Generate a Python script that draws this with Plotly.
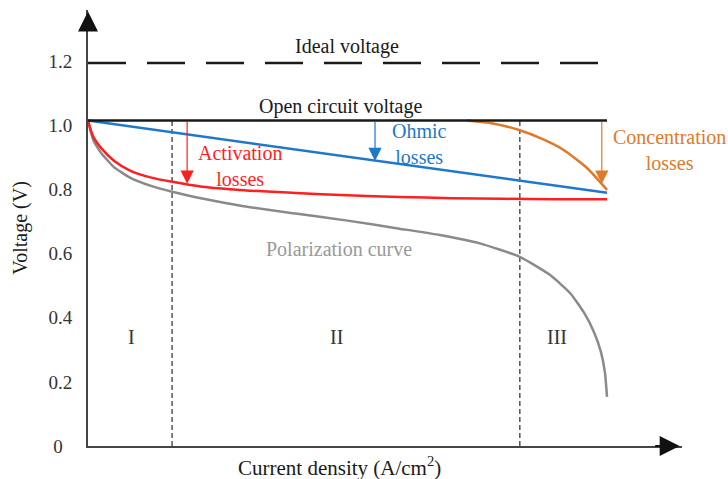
import plotly.graph_objects as go

# ---- data (current density in arbitrary units, voltage in V) ----
x_ideal = [0.0, 1.0]
v_ideal = [1.195, 1.195]

x_ocv = [0.0, 1.0]
v_ocv = [1.015, 1.015]

x_ohmic = [0.0, 1.0]
v_ohmic = [1.015, 0.79]

x_act = [0.0, 0.01, 0.025, 0.05, 0.08, 0.12, 0.162, 0.22, 0.3, 0.4, 0.5, 0.6, 0.7, 0.8, 0.9, 1.0]
v_act = [1.015, 0.965, 0.93, 0.89, 0.86, 0.838, 0.824, 0.809, 0.798, 0.789, 0.782, 0.777, 0.773, 0.771, 0.770, 0.770]

x_conc = [0.73, 0.78, 0.832, 0.875, 0.915, 0.961, 1.0]
v_conc = [1.015, 1.006, 0.985, 0.958, 0.925, 0.868, 0.799]

x_pol = [0.0, 0.01, 0.025, 0.05, 0.08, 0.12, 0.162, 0.22, 0.3, 0.4, 0.5, 0.6, 0.678, 0.755,
         0.832, 0.89, 0.93, 0.956, 0.975, 0.988, 0.996, 1.0]
v_pol = [1.015, 0.955, 0.915, 0.87, 0.838, 0.812, 0.793, 0.772, 0.748, 0.725, 0.703, 0.678, 0.658, 0.632,
         0.59, 0.534, 0.475, 0.415, 0.355, 0.295, 0.23, 0.153]

region_bounds = [0.162, 0.832]
region_labels = ["I", "II", "III"]
region_label_x = [0.083, 0.478, 0.904]

y_tickvals = [0, 0.2, 0.4, 0.6, 0.8, 1.0, 1.2]
y_ticktext = ["0\u00a0\u00a0", "0.2", "0.4", "0.6", "0.8", "1.0", "1.2"]

# arrows: (x, tip voltage)
act_arrow = (0.191, 0.818)
ohm_arrow = (0.553, 0.889)
conc_arrow = (0.990, 0.818)

FONT = "Liberation Serif"
RED = "#ff1f1f"
BLUE = "#1f78c8"
ORANGE = "#e07a28"
GREY = "#8a8a8a"
AXIS = "#454545"

fig = go.Figure()

# region boundaries
for xb in region_bounds:
    fig.add_trace(go.Scatter(x=[xb, xb], y=[0, v_ocv[0]], mode="lines",
                             line=dict(color="#555555", width=1.5, dash="5px,3px"),
                             hoverinfo="skip", showlegend=False))

fig.add_trace(go.Scatter(x=x_ideal, y=v_ideal, mode="lines",
                         line=dict(color="#1a1a1a", width=2.5, dash="38px,21px"), showlegend=False))
fig.add_trace(go.Scatter(x=x_pol, y=v_pol, mode="lines", line=dict(color=GREY, width=2.5, shape="spline", smoothing=0.5),
                         showlegend=False))
fig.add_trace(go.Scatter(x=x_act, y=v_act, mode="lines", line=dict(color=RED, width=2.5, shape="spline", smoothing=0.8),
                         showlegend=False))
fig.add_trace(go.Scatter(x=x_ohmic, y=v_ohmic, mode="lines", line=dict(color=BLUE, width=2.5), showlegend=False))
fig.add_trace(go.Scatter(x=x_conc, y=v_conc, mode="lines", line=dict(color=ORANGE, width=2.5, shape="spline", smoothing=0.6),
                         showlegend=False))
fig.add_trace(go.Scatter(x=x_ocv, y=v_ocv, mode="lines", line=dict(color="#1a1a1a", width=2.5), showlegend=False))

ann = []

def arrow(xy, color):
    x, v = xy
    return dict(x=x, y=v, ax=x, ay=v_ocv[0], xref="x", yref="y", axref="x", ayref="y",
                showarrow=True, arrowhead=2, arrowsize=2.2, arrowwidth=1.2, arrowcolor=color, text="")

ann.append(arrow(act_arrow, RED))
ann.append(arrow(ohm_arrow, BLUE))
ann.append(arrow(conc_arrow, ORANGE))

# axis arrowheads
ann.append(dict(x=0, y=1.355, ax=0, ay=1.30, xref="x", yref="y", axref="x", ayref="y", showarrow=True,
                arrowhead=2, arrowsize=2.0, arrowwidth=2, arrowcolor="#111", text=""))
ann.append(dict(x=1.14, y=0, ax=1.09, ay=0, xref="x", yref="y", axref="x", ayref="y", showarrow=True,
                arrowhead=2, arrowsize=2.0, arrowwidth=2, arrowcolor="#111", text=""))

def label(text, x, y, color="#1a1a1a", size=20):
    return dict(text=text, x=x, y=y, xref="x", yref="y", showarrow=False,
                font=dict(family=FONT, size=size, color=color), xanchor="center", yanchor="middle")

ann.append(label("Ideal voltage", 0.499, 1.245))
ann.append(label("Open circuit voltage", 0.487, 1.058))
ann.append(label("Activation<br>losses", 0.293, 0.872, RED))
ann.append(label("Ohmic<br>losses", 0.638, 0.941, BLUE))
ann.append(label("Concentration<br>losses", 1.121, 0.922, ORANGE))
ann.append(label("Polarization curve", 0.484, 0.615, "#999999"))
for t, xx in zip(region_labels, region_label_x):
    ann.append(label(t, xx, 0.34, "#333333"))

# axis titles
ann.append(dict(text="Current density (A/cm<sup>2</sup>)", x=(339 - 88) / 594, y=-0.047, xref="paper", yref="paper",
                showarrow=False, font=dict(family=FONT, size=21, color="#1a1a1a"), xanchor="center", yanchor="middle"))
ann.append(dict(text="Voltage (V)", x=-0.115, y=0.5, xref="paper", yref="paper", textangle=-90,
                showarrow=False, font=dict(family=FONT, size=20, color="#1a1a1a"), xanchor="center", yanchor="middle"))

fig.update_layout(
    width=728, height=479,
    margin=dict(l=88, r=46, t=10, b=33),
    plot_bgcolor="white", paper_bgcolor="white",
    font=dict(family=FONT),
    annotations=ann,
    xaxis=dict(range=[0, 1.1445], showgrid=False, zeroline=False, showticklabels=False, ticks="",
               showline=True, linecolor=AXIS, linewidth=2),
    yaxis=dict(range=[0, 1.36], showgrid=False, zeroline=False, tickvals=y_tickvals, ticktext=y_ticktext,
               ticks="", showline=True, linecolor=AXIS, linewidth=2, ticklabelstandoff=10,
               tickfont=dict(family=FONT, size=19, color="#333333")),
)

fig.write_html("out.html")
